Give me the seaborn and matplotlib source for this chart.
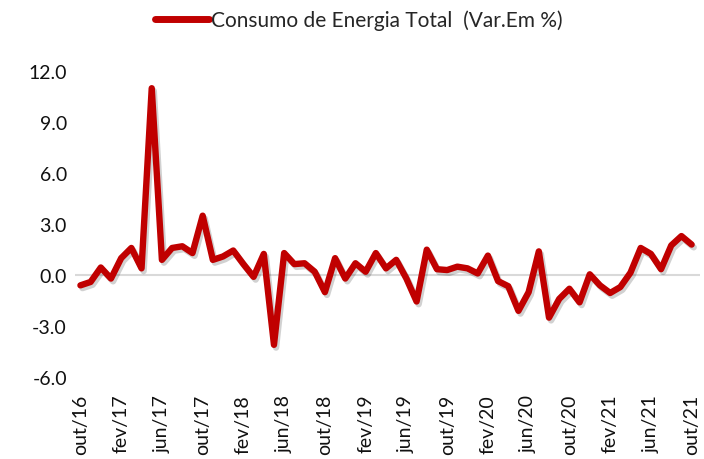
import matplotlib
matplotlib.use("Agg")
import matplotlib.pyplot as plt
import matplotlib.patheffects as pe
import seaborn as sns
import pandas as pd
import numpy as np

months = ["jan", "fev", "mar", "abr", "mai", "jun", "jul", "ago", "set", "out", "nov", "dez"]

# Monthly periods from out/16 to out/21
periods = []
m, y = 9, 16
for _ in range(61):
    periods.append(f"{months[m]}/{y}")
    m += 1
    if m == 12:
        m, y = 0, y + 1

values = [
    -0.6, -0.4, 0.45, -0.2, 1.0, 1.6, 0.4, 11.0, 0.9, 1.6,
    1.7, 1.3, 3.5, 0.9, 1.1, 1.45, 0.65, -0.1, 1.25, -4.1,
    1.3, 0.65, 0.7, 0.2, -1.0, 1.0, -0.2, 0.7, 0.2, 1.3,
    0.4, 0.9, -0.2, -1.55, 1.5, 0.35, 0.3, 0.5, 0.4, 0.1,
    1.15, -0.35, -0.65, -2.1, -1.0, 1.4, -2.5, -1.4, -0.8, -1.6,
    0.05, -0.6, -1.05, -0.7, 0.15, 1.6, 1.25, 0.35, 1.75, 2.3,
    1.8,
]

series_label = "Consumo de Energia Total  (Var.Em %)"
y_ticks = [-6.0, -3.0, 0.0, 3.0, 6.0, 9.0, 12.0]

df = pd.DataFrame({"idx": np.arange(len(values)), "periodo": periods, "valor": values})

sns.set_theme(style="white")
plt.rcParams["font.family"] = ["Lato", "DejaVu Sans"]

fig = plt.figure(figsize=(7.04, 4.60), dpi=100)
ax = fig.add_axes([0.107, 0.178, 0.887, 0.665])

ax.axhline(0, color="#d9d9d9", lw=1.5, zorder=1)

sns.lineplot(data=df, x="idx", y="valor", ax=ax, color="#C00000", lw=4.6,
             label=series_label, zorder=3,
             path_effects=[pe.SimpleLineShadow(offset=(1.5, -2), shadow_color="black", alpha=0.18),
                           pe.Normal()])

ax.set_ylim(-6, 12)
ax.set_xlim(-0.5, 60.8)
ax.set_yticks(y_ticks)
ax.set_yticklabels([f"{v:.1f}" for v in y_ticks], fontsize=14, color="#111111")
tick_idx = list(range(0, 61, 4))
ax.set_xticks(tick_idx)
ax.set_xticklabels([periods[i] for i in tick_idx], rotation=90, fontsize=14, color="#111111")
ax.tick_params(axis="both", length=0, pad=6)
ax.tick_params(axis="x", pad=12)
ax.set_xlabel("")
ax.set_ylabel("")
for s in ax.spines.values():
    s.set_visible(False)

handles, labels = ax.get_legend_handles_labels()
ax.get_legend().remove()
leg = fig.legend(handles, labels, loc="center", bbox_to_anchor=(0.51, 0.955), frameon=False,
                 fontsize=15, handlelength=2.6, handletextpad=0.1)
for line in leg.get_lines():
    line.set_linewidth(5)
    line.set_path_effects([])

fig.savefig("out.png", dpi=100)
